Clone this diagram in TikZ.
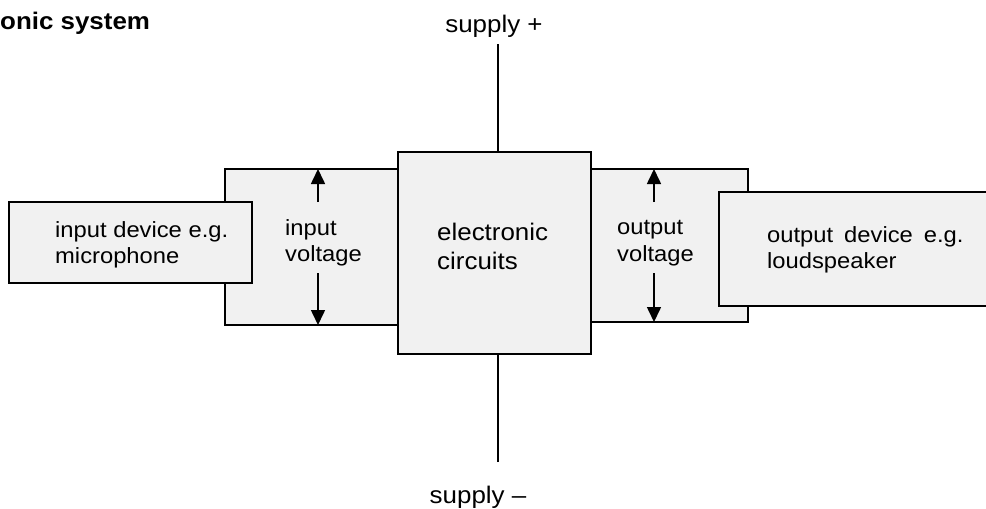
\documentclass[tikz,border=0pt]{standalone}
\usepackage{fontspec}
\setmainfont{Liberation Sans}[FakeStretch=1.08]
\usetikzlibrary{arrows.meta}
\begin{document}
\begin{tikzpicture}[x=1pt,y=-1pt,
  box/.style={draw=black, line width=1.7pt, fill=boxgrey, anchor=north west, inner sep=0pt, outer sep=0pt},
  lbl/.style={font=\fontsize{22}{26.5}\selectfont, align=left, inner sep=0pt, anchor=west},
  biglbl/.style={font=\fontsize{24}{29}\selectfont, align=left, inner sep=0pt, anchor=west},
  supl/.style={font=\fontsize{24}{29}\selectfont, inner sep=0pt, anchor=base},
  wire/.style={line width=1.7pt},
  varrow/.style={line width=1.6pt, -{Triangle[width=14pt,length=15pt]}}
]
\definecolor{boxgrey}{HTML}{F1F1F1}
\useasboundingbox (0,0) rectangle (986,509);
% boxes
\node[box, minimum width=175pt, minimum height=156pt] (involt) at (225,169) {};
\node[box, minimum width=243pt, minimum height=81pt] (indev) at (9,202) {};
\node[box, minimum width=157pt, minimum height=153pt] (outvolt) at (591,169) {};
\node[box, minimum width=290pt, minimum height=114pt] (outdev) at (719,192) {};
\node[box, minimum width=193pt, minimum height=202pt] (circ) at (398,152) {};
% texts
\node[font=\fontsize{24}{29}\selectfont\bfseries, inner sep=0pt, anchor=base west] (title) at (0,29) {onic system};
\node[lbl] (indevt) at (55,245) {input device e.g.\\microphone};
\node[lbl] (involtt) at (285,243) {input\\voltage};
\node[biglbl] (circt) at (437,246) {electronic\\circuits};
\node[lbl] (outvoltt) at (617,243) {output\\voltage};
\node[lbl] (outdevt) at (767,250) {output\hspace{0.5em}device\hspace{0.5em}e.g.\\loudspeaker};
\node[supl] (splus) at (494,32) {supply +};
\node[supl] (sminus) at (478,503) {supply –};
% supply wires
\coordinate (ptop) at (498,44);
\coordinate (pbot) at (498,462);
\draw[wire] (ptop) -- (ptop |- circ.north);
\draw[wire] (pbot) -- (pbot |- circ.south);
% voltage arrows
\coordinate (ia1) at (318,202);
\coordinate (ia2) at (318,273);
\coordinate (oa1) at (654,202);
\coordinate (oa2) at (654,273);
\draw[varrow] (ia1) -- (ia1 |- involt.north);
\draw[varrow] (ia2) -- (ia2 |- involt.south);
\draw[varrow] (oa1) -- (oa1 |- outvolt.north);
\draw[varrow] (oa2) -- (oa2 |- outvolt.south);
\end{tikzpicture}
\end{document}
